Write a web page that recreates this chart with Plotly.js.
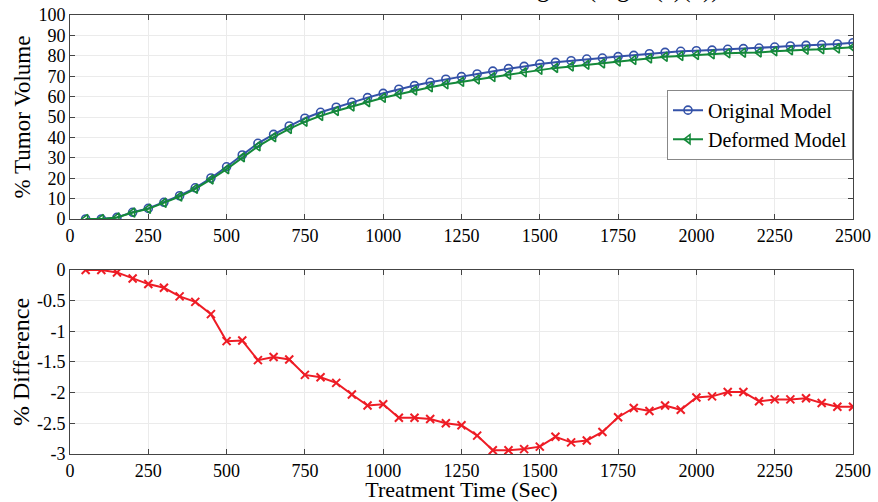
<!DOCTYPE html>
<html>
<head>
<meta charset="utf-8">
<script src="https://cdn.plot.ly/plotly-3.0.1.min.js"></script>
<style>html,body{margin:0;padding:0;background:#fff}#chart{width:878px;height:502px}</style>
</head>
<body>
<div id="chart"></div>
<script>
var timeSec = [50,100,150,200,250,300,350,400,450,500,550,600,650,700,750,800,850,900,950,1000,
  1050,1100,1150,1200,1250,1300,1350,1400,1450,1500,1550,1600,1650,1700,1750,1800,1850,1900,1950,2000,
  2050,2100,2150,2200,2250,2300,2350,2400,2450,2500];
var originalModel = [0,0,0.8,3.3,5.2,8.2,11.4,15.3,20.1,25.6,31.4,37.1,41.5,45.6,49.4,52.3,54.8,57.2,59.5,61.6,
  63.6,65.4,67.0,68.5,69.8,71.1,72.5,73.7,74.8,76.0,76.8,77.6,78.4,78.9,79.6,80.2,81.0,81.7,82.2,82.5,
  82.8,83.2,83.5,83.8,84.3,84.8,85.1,85.4,85.8,86.4];
var deformedModel = [0,0,0.76,3.16,4.97,7.91,10.97,14.78,19.38,24.44,30.25,35.63,40.08,44.14,47.69,50.55,52.96,55.17,57.29,59.41,
  61.19,62.99,64.57,66.0,67.27,68.4,69.56,70.76,71.88,73.12,74.08,74.79,75.62,76.26,77.2,77.95,78.7,79.49,79.92,80.42,
  80.74,81.21,81.51,81.66,82.19,82.69,83.01,83.23,83.57,84.17];
var percentDiff = [0,0,-0.04,-0.14,-0.23,-0.29,-0.43,-0.52,-0.72,-1.16,-1.15,-1.47,-1.42,-1.46,-1.71,-1.75,-1.84,-2.03,-2.21,-2.19,
  -2.41,-2.41,-2.43,-2.5,-2.53,-2.70,-2.94,-2.94,-2.92,-2.88,-2.72,-2.81,-2.78,-2.64,-2.40,-2.25,-2.30,-2.21,-2.28,-2.08,
  -2.06,-1.99,-1.99,-2.14,-2.11,-2.11,-2.09,-2.17,-2.23,-2.23];
var xTicks = [0,250,500,750,1000,1250,1500,1750,2000,2250,2500];
var yTopTicks = [0,10,20,30,40,50,60,70,80,90,100];
var yBotTicks = [0,-0.5,-1,-1.5,-2,-2.5,-3];
var yBotLabels = ['0','-0.5','-1','-1.5','-2','-2.5','-3'];
var titleText = 'Tumor Volume in Heated Region (Fig. 5(a)(b))';

var FONT = 'Liberation Serif';
var traces = [
  {x: timeSec, y: originalModel, type: 'scatter', mode: 'lines+markers', name: 'Original Model',
   xaxis: 'x', yaxis: 'y',
   line: {color: '#3452a8', width: 2},
   marker: {symbol: 'circle-open', size: 8, color: '#3452a8', line: {width: 1.6}}},
  {x: timeSec, y: deformedModel, type: 'scatter', mode: 'lines+markers', name: 'Deformed Model',
   xaxis: 'x', yaxis: 'y',
   line: {color: '#14893a', width: 2},
   marker: {symbol: 'triangle-left-open', size: 8, color: '#14893a', line: {width: 1.6}}},
  {x: timeSec, y: percentDiff, type: 'scatter', mode: 'lines+markers', name: '% Difference',
   xaxis: 'x2', yaxis: 'y2', showlegend: false,
   line: {color: '#ee1c25', width: 2},
   marker: {symbol: 'x-thin-open', size: 8, color: '#ee1c25', line: {width: 2, color: '#ee1c25'}}}
];

var axisCommon = {
  showline: true, linecolor: '#444', linewidth: 1, mirror: 'ticks',
  ticks: 'inside', ticklen: 5, tickcolor: '#444',
  showgrid: true, gridcolor: '#ebebeb', gridwidth: 1,
  zeroline: false,
  tickfont: {family: FONT, size: 18, color: '#000'}
};

var layout = {
  width: 878, height: 502,
  margin: {l: 70, r: 25, t: 15, b: 48},
  paper_bgcolor: '#fff', plot_bgcolor: '#fff',
  font: {family: FONT, color: '#000'},
  showlegend: true,
  legend: {x: 1, xanchor: 'right', y: 0.83, yanchor: 'top',
    bgcolor: '#fff', bordercolor: '#888', borderwidth: 1,
    font: {family: FONT, size: 20, color: '#000'},
    tracegroupgap: 0, itemwidth: 30},
  xaxis: Object.assign({}, axisCommon, {domain: [0, 1], range: [0, 2500], tickvals: xTicks, anchor: 'y'}),
  yaxis: Object.assign({}, axisCommon, {domain: [0.5353, 1], range: [0, 100], tickvals: yTopTicks, anchor: 'x',
    title: {text: '% Tumor Volume', font: {family: FONT, size: 23, color: '#000'}, standoff: 1}}),
  xaxis2: Object.assign({}, axisCommon, {domain: [0, 1], range: [0, 2500], tickvals: xTicks, anchor: 'y2',
    title: {text: 'Treatment Time (Sec)', font: {family: FONT, size: 22, color: '#000'}, standoff: 3}}),
  yaxis2: Object.assign({}, axisCommon, {domain: [0, 0.4192], range: [-3, 0], tickvals: yBotTicks, ticktext: yBotLabels, anchor: 'x2',
    title: {text: '% Difference', font: {family: FONT, size: 24, color: '#000'}, standoff: 0}}),
  annotations: [{
    text: titleText, xref: 'paper', yref: 'paper', x: 0.833, xanchor: 'right',
    y: 1.0, yanchor: 'bottom', yshift: 10, showarrow: false,
    font: {family: FONT, size: 25, color: '#000'}
  }]
};

Plotly.newPlot('chart', traces, layout, {displayModeBar: false, staticPlot: true});
</script>
</body>
</html>
